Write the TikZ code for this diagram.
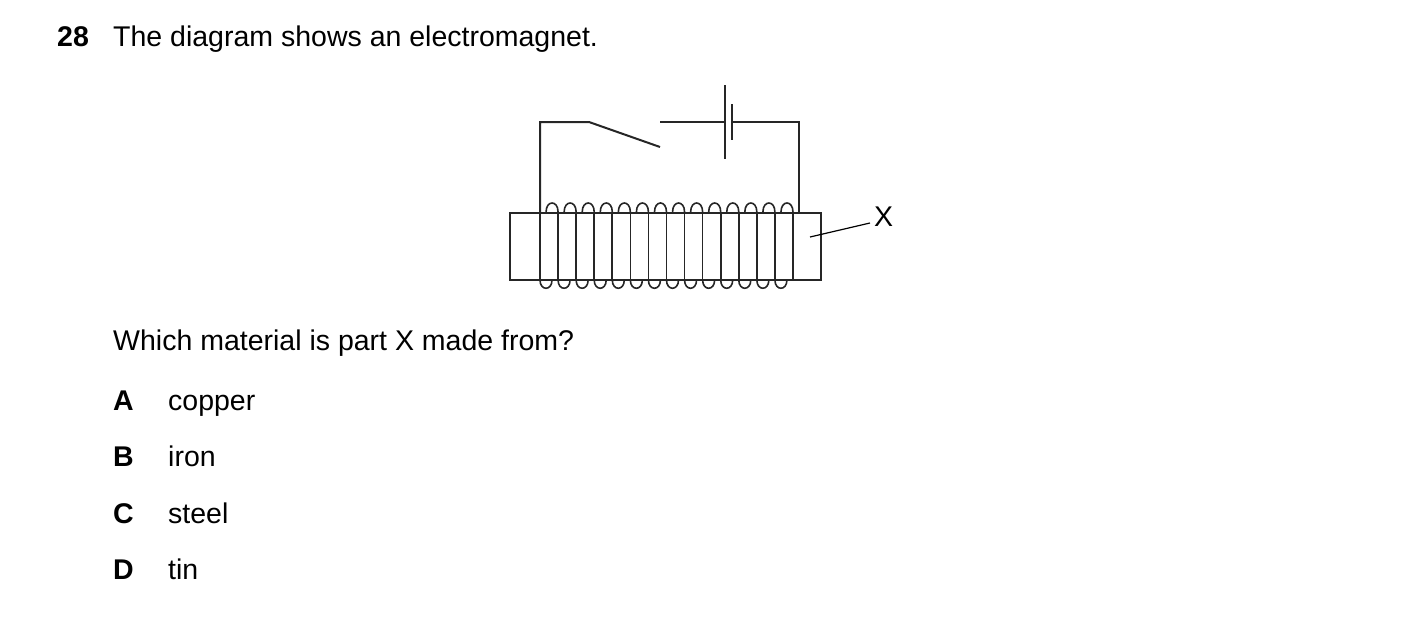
\documentclass[tikz,border=0pt]{standalone}
\usepackage{fontspec}
\setmainfont{Liberation Sans}
\begin{document}
\begin{tikzpicture}[x=1pt,y=-1pt,
  txt/.style={anchor=base west,inner sep=0pt,font=\fontsize{28.5}{34}\selectfont},
  bld/.style={txt,font=\fontsize{28.5}{34}\selectfont\bfseries},
  wire/.style={line width=2pt,black!85},
  coil/.style={line width=1.6pt,black!85}]
\useasboundingbox (0,0) rectangle (1403,632);
\node[bld] (q) at (57,46) {28};
\node[txt] (t) at (113,46) {The diagram shows an electromagnet.};
\node[txt] (w) at (113,350) {Which material is part X made from?};
\node[bld] (la) at (113,410) {A}; \node[txt] (oa) at (168,410) {copper};
\node[bld] (lb) at (113,466) {B}; \node[txt] (ob) at (168,466) {iron};
\node[bld] (lc) at (113,523) {C}; \node[txt] (oc) at (168,523) {steel};
\node[bld] (ld) at (113,579) {D}; \node[txt] (od) at (168,579) {tin};
% core
\node[draw,wire,minimum width=311pt,minimum height=67.5pt,inner sep=0pt] (core) at (665.5,246.25) {};
\node[txt,anchor=west] (X) at (874,217) {X};
\coordinate (xp) at (810,237);
\draw[line width=1.2pt] (xp) -- (870,223);
% circuit
\coordinate (tl) at (540,122); \coordinate (sw) at (589,122); \coordinate (swe) at (660,147);
\coordinate (c1) at (660,122); \coordinate (b1) at (725,122); \coordinate (b2) at (732,122);
\coordinate (tr) at (799,122);
\draw[wire] (540,212) -- (tl) -- (sw) -- (swe);
\draw[wire] (c1) -- (b1);
\draw[wire] (b2) -- (tr) -- (799,212);
\draw[wire] (725,85) -- (725,159);
\draw[wire] (732,104) -- (732,140);
% coil
\foreach \k in {0,...,14}{
  \pgfmathsetmacro{\f}{540+\k*18.07}
  \draw[coil] (\f,212) -- (\f,280);
}
\foreach \k in {0,...,13}{
  \pgfmathsetmacro{\f}{540+\k*18.07}
  \draw[coil] (\f,280) .. controls (\f,291) and (\f+12,291) .. (\f+12,280);
}
\foreach \k in {1,...,14}{
  \pgfmathsetmacro{\f}{540+\k*18.07}
  \draw[coil] (\f-12,212) .. controls (\f-12,200) and (\f,200) .. (\f,212);
}
\end{tikzpicture}
\end{document}
